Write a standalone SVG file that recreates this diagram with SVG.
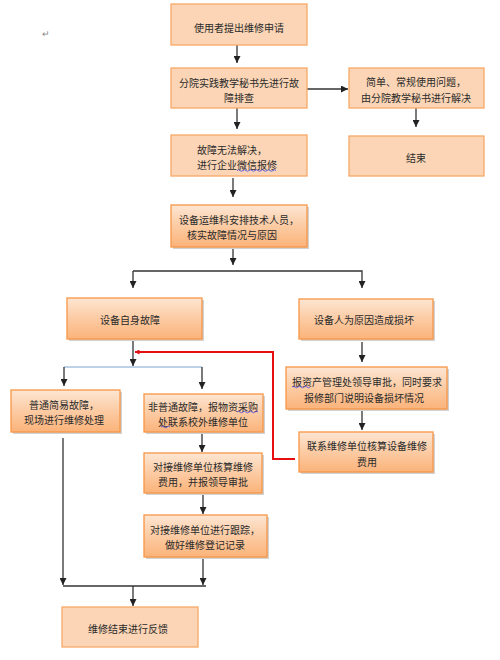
<svg xmlns="http://www.w3.org/2000/svg" width="500" height="660" viewBox="0 0 500 660">
<style>
text{font-family:"Noto Sans CJK SC","Noto Sans",sans-serif;font-size:10px;fill:#2a2a2a;text-anchor:middle;dominant-baseline:central}
.flat{fill:#FBD5B5;stroke:#F7A868;stroke-width:1.3}
.grad{fill:url(#g);stroke:#F79646;stroke-width:1.3}
.sh{fill:#d2d2d2}
.c{fill:none;stroke:#333;stroke-width:1.3}
.blue{fill:none;stroke:#7FA3D0;stroke-width:1.2}
.red{fill:none;stroke:#E61010;stroke-width:2}
.wavy{fill:none;stroke:#4040E0;stroke-width:0.8}
</style>
<defs>
<linearGradient id="g" x1="0" y1="0" x2="0" y2="1">
<stop offset="0" stop-color="#FDE6D3"/>
<stop offset="0.5" stop-color="#FCCBA3"/>
<stop offset="1" stop-color="#FBB37A"/>
</linearGradient>
<marker id="a" viewBox="0 0 10 10" refX="10" refY="5" markerWidth="7" markerHeight="7" orient="auto" markerUnits="userSpaceOnUse">
<path d="M0,0 L10,5 L0,10 z" fill="#222"/>
</marker>
<marker id="ar" viewBox="0 0 10 10" refX="9" refY="5" markerWidth="5" markerHeight="5" orient="auto" markerUnits="userSpaceOnUse">
<path d="M0,0 L10,5 L0,10 z" fill="#E61010"/>
</marker>
</defs>
<rect width="500" height="660" fill="#fff"/>
<text x="46" y="33" style="font-size:9px;fill:#888">↵</text>

<g id="connectors">
<path class="c" d="M237,45 V63" marker-end="url(#a)"/>
<path class="c" d="M307,89 H348" marker-end="url(#a)"/>
<path class="c" d="M416,108 V127" marker-end="url(#a)"/>
<path class="c" d="M237,108 V129" marker-end="url(#a)"/>
<path class="c" d="M233,178 V197" marker-end="url(#a)"/>
<path class="c" d="M233,247 V265" marker-end="url(#a)"/>
<path class="c" d="M133,271 H362 V288" marker-end="url(#a)"/>
<path class="c" d="M133,271 V288" marker-end="url(#a)"/>
<path class="c" d="M133,339 V366" marker-end="url(#a)"/>
<path class="blue" d="M64,367 H202"/>
<path class="c" d="M64,367 V386" marker-end="url(#a)"/>
<path class="c" d="M202,367 V389" marker-end="url(#a)"/>
<path class="c" d="M202,433 V452" marker-end="url(#a)"/>
<path class="c" d="M203,493 V514" marker-end="url(#a)"/>
<path class="c" d="M203,559 V585" marker-end="url(#a)"/>
<path class="c" d="M63,438 V585" marker-end="url(#a)"/>
<path class="c" d="M63,586 H206"/>
<path class="c" d="M133,586 V606" marker-end="url(#a)"/>
<path class="c" d="M362,342 V362" marker-end="url(#a)"/>
<path class="c" d="M362,410 V430" marker-end="url(#a)"/>
<path class="red" d="M295,459 H273 V352 H135" marker-end="url(#ar)"/>
</g>

<g id="n1"><rect class="flat" x="171" y="4" width="136" height="41"/><text x="239" y="27">使用者提出维修申请</text></g>
<g id="n2"><rect class="flat" x="171" y="68" width="136" height="40"/><text x="239" y="82">分院实践教学秘书先进行故</text><text x="239" y="97">障排查</text></g>
<g id="n3"><rect class="flat" x="349" y="68" width="135" height="40"/><text x="416" y="81">简单、常规使用问题，</text><text x="416" y="97">由分院教学秘书进行解决</text></g>
<g id="n4"><rect class="flat" x="349" y="136" width="135" height="40"/><text x="416" y="157">结束</text></g>
<g id="n5"><rect class="flat" x="171" y="135" width="136" height="41"/><text x="232" y="149">故障无法解决，</text><text x="237" y="164">进行企业微信报修</text>
<path class="wavy" d="M237,170.5 q1.5,-1.5 3,0 t3,0 t3,0 t3,0 t3,0 t3,0 t3,0 t3,0 t3,0 t3,0 t3,0 t3,0 t3,0"/></g>
<g id="n6"><rect class="sh" x="173" y="207" width="136" height="42"/><rect class="grad" x="171" y="205" width="136" height="42"/><text x="239" y="219">设备运维科安排技术人员，</text><text x="232" y="234">核实故障情况与原因</text></g>
<g id="n7"><rect class="sh" x="69" y="300" width="135" height="41"/><rect class="grad" x="67" y="298" width="135" height="41"/><text x="130" y="319">设备自身故障</text></g>
<g id="n8"><rect class="sh" x="301" y="301" width="134" height="40"/><rect class="grad" x="299" y="299" width="134" height="40"/><text x="364" y="319">设备人为原因造成损坏</text></g>
<g id="n9"><rect class="sh" x="13" y="392" width="109" height="42"/><rect class="grad" x="11" y="390" width="109" height="42"/><text x="64" y="404">普通简易故障，</text><text x="64" y="419">现场进行维修处理</text></g>
<g id="n10"><rect class="sh" x="146" y="396" width="119" height="38"/><rect class="grad" x="144" y="394" width="119" height="38"/><text x="203" y="406">非普通故障，报物资采购</text><text x="203" y="421">处联系校外维修单位</text>
<path class="wavy" d="M237,412 q1.5,-1.5 3,0 t3,0 t3,0 t3,0 t3,0 t3,0 t3,0 M161,427 q1.5,-1.5 3,0 t3,0 t3,0"/></g>
<g id="n11"><rect class="sh" x="146" y="455" width="118" height="40"/><rect class="grad" x="144" y="453" width="118" height="40"/><text x="203" y="466">对接维修单位核算维修</text><text x="203" y="481">费用，并报领导审批</text></g>
<g id="n12"><rect class="sh" x="146" y="517" width="123" height="42"/><rect class="grad" x="144" y="515" width="123" height="42"/><text x="205" y="529">对接维修单位进行跟踪，</text><text x="205" y="544">做好维修登记记录</text></g>
<g id="n13"><rect class="flat" x="62" y="607" width="136" height="40"/><text x="128" y="628">维修结束进行反馈</text></g>
<g id="n14"><rect class="sh" x="288" y="369" width="161" height="42"/><rect class="grad" x="286" y="367" width="161" height="42"/><text x="367" y="381">报资产管理处领导审批，同时要求</text><text x="364" y="397">报修部门说明设备损坏情况</text>
<path class="wavy" d="M292,387 q1.5,-1.5 3,0 t3,0 t3,0 t3,0 t3,0 t3,0"/></g>
<g id="n15"><rect class="sh" x="301" y="434" width="134" height="40"/><rect class="grad" x="299" y="432" width="134" height="40"/><text x="367" y="445">联系维修单位核算设备维修</text><text x="367" y="461">费用</text></g>
</svg>
